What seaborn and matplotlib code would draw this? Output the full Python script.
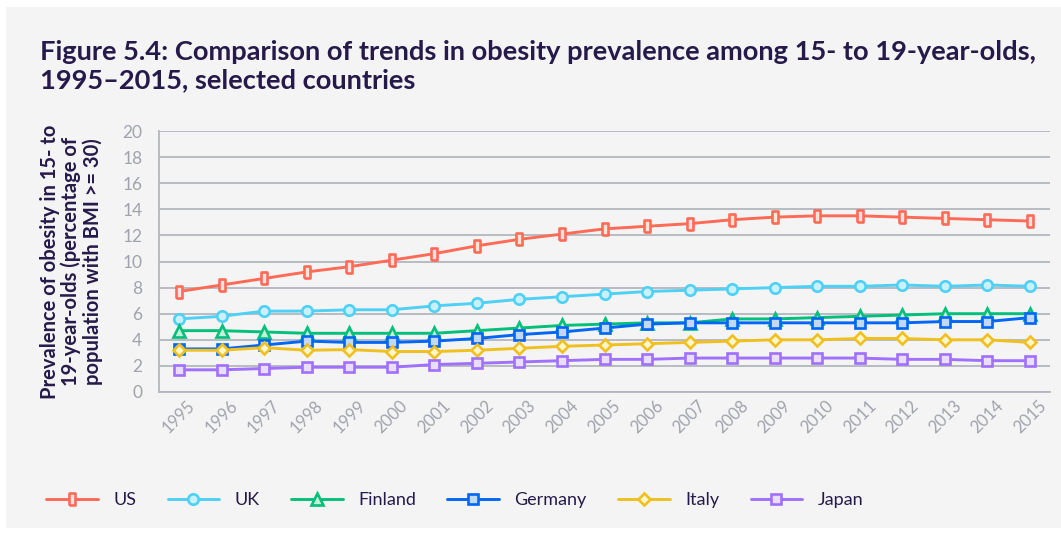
import matplotlib
matplotlib.use("Agg")
import matplotlib.pyplot as plt
import seaborn as sns
import pandas as pd
from matplotlib.patches import Rectangle

years = list(range(1995, 2016))
us = [7.7, 8.2, 8.7, 9.2, 9.6, 10.1, 10.6, 11.2, 11.7, 12.1, 12.5, 12.7, 12.9, 13.2, 13.4, 13.5, 13.5, 13.4, 13.3, 13.2, 13.1]
uk = [5.6, 5.8, 6.2, 6.2, 6.3, 6.3, 6.6, 6.8, 7.1, 7.3, 7.5, 7.7, 7.8, 7.9, 8.0, 8.1, 8.1, 8.2, 8.1, 8.2, 8.1]
finland = [4.7, 4.7, 4.6, 4.5, 4.5, 4.5, 4.5, 4.7, 4.9, 5.1, 5.2, 5.3, 5.3, 5.6, 5.6, 5.7, 5.8, 5.9, 6.0, 6.0, 6.0]
germany = [3.3, 3.3, 3.6, 3.9, 3.8, 3.8, 3.9, 4.1, 4.4, 4.6, 4.9, 5.2, 5.3, 5.3, 5.3, 5.3, 5.3, 5.3, 5.4, 5.4, 5.7]
italy = [3.2, 3.2, 3.4, 3.2, 3.25, 3.1, 3.1, 3.2, 3.35, 3.5, 3.6, 3.7, 3.8, 3.9, 4.0, 4.0, 4.1, 4.1, 4.0, 4.0, 3.8]
japan = [1.7, 1.7, 1.8, 1.9, 1.9, 1.9, 2.1, 2.2, 2.3, 2.4, 2.5, 2.5, 2.6, 2.6, 2.6, 2.6, 2.6, 2.5, 2.5, 2.4, 2.4]

countries = ["US", "UK", "Finland", "Germany", "Italy", "Japan"]
series = [us, uk, finland, germany, italy, japan]
line_colors = ["#ff6b57", "#4fd0f5", "#00c07a", "#0066f5", "#f0c020", "#a070ff"]
face_colors = ["#ffe4de", "#c9f1fc", "#c4f0d8", "#c2d8f8", "#fff6cc", "#e9defe"]
tall_rect = [(-0.55, -1), (0.55, -1), (0.55, 1), (-0.55, 1), (-0.55, -1)]
markers = [tall_rect, "o", "^", "s", "D", "s"]
msizes = [8.5, 7.5, 8, 7.5, 6.2, 7.5]

sns.set_theme(style="white")
plt.rcParams['font.family'] = ['Lato', 'DejaVu Sans']

fig = plt.figure(figsize=(10.61, 5.33), dpi=100, facecolor="white")
fig.patches.append(Rectangle((6 / 1061, 0.01), 1.0, 1 - 7 / 533 - 0.01, transform=fig.transFigure,
                             facecolor="#f4f4f4", edgecolor="none", zorder=-10))

ax = fig.add_axes([159 / 1061, 1 - 392 / 533, (1050 - 159) / 1061, (392 - 131) / 533])
ax.set_facecolor("#f4f4f4")

df = pd.DataFrame({"year": years})
handles = []
for name, vals, lc, fc, mk, ms in zip(countries, series, line_colors, face_colors, markers, msizes):
    df[name] = vals
    sns.lineplot(data=df, x="year", y=name, ax=ax, color=lc, linewidth=2.1, marker=mk,
                 markersize=ms, markerfacecolor=fc, markeredgecolor=lc, markeredgewidth=1.9,
                 label=name, legend=False, zorder=3)
    handles.append(ax.lines[-1])

ax.set_xlim(1994.53, 2015.47)
ax.set_ylim(0, 20)
ax.set_yticks(range(0, 21, 2))
ax.set_xticks(years)
ax.set_xticklabels([str(y) for y in years], rotation=45, ha="center",
                   color="#a0a3ad", fontsize=12)
ax.tick_params(axis="y", colors="#a0a3ad", labelsize=12.5, length=0, pad=12)
ax.tick_params(axis="x", length=0, pad=4)
ax.yaxis.grid(True, color="#b3b6bd", linewidth=1.3)
ax.set_axisbelow(True)
for s in ["top", "right"]:
    ax.spines[s].set_visible(False)
for s in ["left", "bottom"]:
    ax.spines[s].set_color("#b3b6bd")
    ax.spines[s].set_linewidth(1.3)
ax.set_xlabel("")
ax.set_ylabel("Prevalence of obesity in 15- to\n19-year-olds (percentage of\npopulation with BMI >= 30)",
              fontsize=14.5, fontweight="bold", color="#261a4a", linespacing=1.05, labelpad=14)

fig.text(40 / 1061, 1 - 66 / 533, "Figure 5.4: Comparison of trends in obesity prevalence among 15- to 19-year-olds,\n1995\u20132015, selected countries",
         fontsize=19.6, fontweight="bold", color="#261a4a", va="center", ha="left", linespacing=1.18)

fig.legend(handles=handles, labels=countries, loc="center left", bbox_to_anchor=(30 / 1061, 1 - 500 / 533),
           ncol=6, frameon=False, fontsize=13, handlelength=2.85, columnspacing=1.75, handletextpad=0.85,
           labelcolor="#261a4a")

fig.savefig("out.png", dpi=100, facecolor="white")
